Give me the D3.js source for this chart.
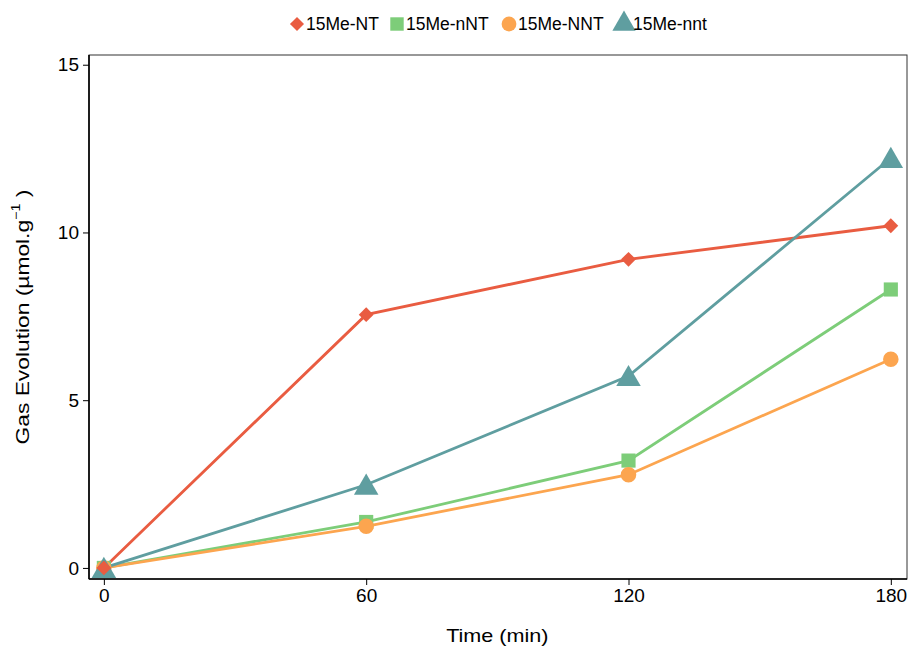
<!DOCTYPE html>
<html>
<head>
<meta charset="utf-8">
<script src="https://cdn.jsdelivr.net/npm/d3@7"></script>
<style>
  body { margin: 0; background: #fff; }
  text { font-family: "Liberation Sans", Arial, sans-serif; }
</style>
</head>
<body>
<div id="chart"></div>
<script>
var times = [0, 60, 120, 180];
var xTicks = [0, 60, 120, 180];
var yTicks = [0, 5, 10, 15];
var seriesNames = ["15Me-NT", "15Me-nNT", "15Me-NNT", "15Me-nnt"];
var valuesNT = [0, 7.55, 9.2, 10.2];
var valuesnNT = [0, 1.37, 3.2, 8.3];
var valuesNNT = [0, 1.24, 2.78, 6.22];
var valuesnnt = [0, 2.48, 5.72, 12.22];

var colors = ["#e95c41", "#7dcd79", "#fca54f", "#5f9ea0"];
var shapes = ["diamond", d3.symbolSquare, d3.symbolCircle, d3.symbolTriangle];
var sizes = [110, 200, 190, 260];

var series = [valuesNT, valuesnNT, valuesNNT, valuesnnt].map(function(vals, i) {
    return {
        name: seriesNames[i],
        color: colors[i],
        shape: shapes[i],
        size: sizes[i],
        points: vals.map(function(v, j) { return {t: times[j], v: v}; })
    };
});

// diamond = square turned 45 degrees
function symbolPath(s, scale) {
    var type = s.shape === "diamond" ? d3.symbolSquare : s.shape;
    return d3.symbol().type(type).size(s.size * (scale || 1))();
}
function symbolTransform(s, x, y) {
    if (s.shape === "diamond") return "translate(" + x + "," + y + ") rotate(45)";
    if (s.shape === d3.symbolTriangle) return "translate(" + x + "," + (y + 3) + ")";
    return "translate(" + x + "," + y + ")";
}

var W = 915, H = 655;
var margin = {top: 55, right: 8, bottom: 76, left: 89};
var width = W - margin.left - margin.right;
var height = H - margin.top - margin.bottom;

var svg = d3.select("#chart").append("svg")
    .attr("width", W)
    .attr("height", H);

var xScale = d3.scaleLinear().domain([-3.4, 183.7]).range([0, width]);
var yScale = d3.scaleLinear().domain([-0.33, 15.29]).range([height, 0]);

var g = svg.append("g")
    .attr("transform", "translate(" + margin.left + "," + margin.top + ")");

// frame
g.append("rect")
    .attr("width", width)
    .attr("height", height)
    .attr("fill", "none")
    .attr("stroke", "#333")
    .attr("stroke-width", 1);

var xAxis = g.append("g")
    .attr("transform", "translate(0," + height + ")")
    .call(d3.axisBottom(xScale).tickValues(xTicks).tickSize(6).tickPadding(4).tickSizeOuter(0));

var yAxis = g.append("g")
    .call(d3.axisLeft(yScale).tickValues(yTicks).tickSize(6).tickPadding(4).tickSizeOuter(0));

[xAxis, yAxis].forEach(function(ax) {
    ax.select(".domain").attr("stroke", "#000").attr("stroke-width", 1.6);
    ax.selectAll(".tick line").attr("stroke", "#000").attr("stroke-width", 1);
    ax.selectAll(".tick text")
        .attr("fill", "#000")
        .style("font-size", "19px")
        .style("font-family", "Liberation Sans, Arial, sans-serif");
});
xAxis.select(".domain").attr("d", "M0,0H" + width);
yAxis.select(".domain").attr("d", "M0,0V" + height);

var line = d3.line()
    .x(function(d) { return xScale(d.t); })
    .y(function(d) { return yScale(d.v); });

[0, 1, 2, 3].forEach(function(i) {
    g.append("path")
        .datum(series[i].points)
        .attr("fill", "none")
        .attr("stroke", series[i].color)
        .attr("stroke-width", 2.8)
        .attr("d", line);
});

[1, 2, 3, 0].forEach(function(i) {
    var s = series[i];
    g.selectAll(null)
        .data(s.points)
        .enter().append("path")
        .attr("transform", function(d) { return symbolTransform(s, xScale(d.t), yScale(d.v)); })
        .attr("d", symbolPath(s))
        .attr("fill", s.color);
});

// axis titles (text in the reference runs a bit wide, so stretch along the baseline)
svg.append("text")
    .attr("transform", "translate(" + (margin.left + xScale(90)) + ",642) scale(1.2,1)")
    .attr("text-anchor", "middle")
    .style("font-size", "18px")
    .text("Time (min)");

var yTitle = svg.append("text")
    .attr("transform", "translate(29," + (margin.top + height / 2) + ") rotate(-90) scale(1.2,1)")
    .attr("text-anchor", "middle")
    .style("font-size", "19px");
yTitle.append("tspan").text("Gas Evolution (µmol.g");
yTitle.append("tspan").attr("dy", -9).style("font-size", "12px").text("−1");
yTitle.append("tspan").attr("dy", 9).text("  )");

// legend
var legendX = [297, 397, 509, 624];
series.forEach(function(s, i) {
    var lg = svg.append("g");
    lg.append("path")
        .attr("d", symbolPath(s, 0.9))
        .attr("transform", symbolTransform(s, legendX[i], s.shape === d3.symbolTriangle ? 21 : 24))
        .attr("fill", s.color);
    lg.append("text")
        .attr("x", legendX[i] + 9)
        .attr("y", 30)
        .style("font-size", "17.5px")
        .text(s.name);
});
</script>
</body>
</html>
